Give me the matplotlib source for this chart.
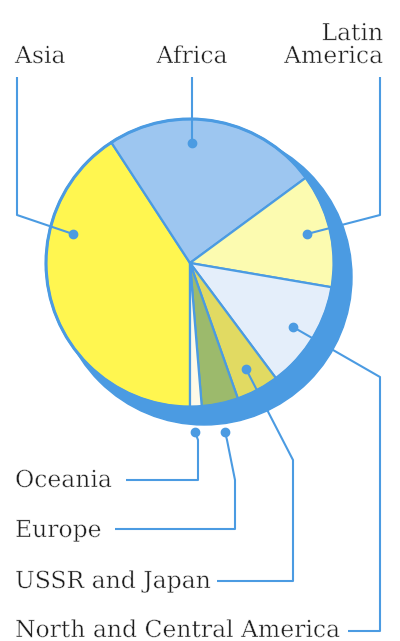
import matplotlib.pyplot as plt
import matplotlib.patheffects as pe
from matplotlib.patches import Circle

W, H = 400, 641

regions = ['Asia', 'Africa', 'Latin America', 'North and Central America',
           'USSR and Japan', 'Europe', 'Oceania']
shares = [40.8, 24.1, 12.8, 12.1, 4.8, 4.1, 1.3]
colors = ['#fff650', '#9dc6f0', '#fcfbb0', '#e4eefa', '#e1da62', '#9cba6c', '#fdfae8']

blue = '#4b9be2'
ink = '#1e1e1e'

fig = plt.figure(figsize=(W / 100, H / 100), dpi=100)
ax = fig.add_axes([0, 0, 1, 1])

cx, cy, r = 190, H - 263, 144

# blue "thickness" disc behind the pie
ax.add_patch(Circle((cx + 14, cy - 14), r + 4, color=blue, zorder=1))

wedges, _ = ax.pie(shares, colors=colors, startangle=270, counterclock=False,
                   center=(cx, cy), radius=r,
                   wedgeprops=dict(edgecolor=blue, linewidth=1.6, zorder=2))
ax.add_patch(Circle((cx, cy), r, fill=False, edgecolor=blue, lw=2.2, zorder=3))

ax.set_xlim(0, W)
ax.set_ylim(0, H)
ax.set_aspect('auto')
ax.axis('off')

# leader lines: list of (x, y) in image pixels, first point is the dot
leaders = {
    'Asia': [(73, 234), (17, 215), (17, 77)],
    'Africa': [(192, 143), (192, 77)],
    'Latin America': [(307, 234), (380, 215), (380, 77)],
    'Oceania': [(195, 432), (198, 440), (198, 480), (126, 480)],
    'Europe': [(225, 432), (227, 440), (235, 480), (235, 529), (115, 529)],
    'USSR and Japan': [(246, 369), (293, 460), (293, 581), (217, 581)],
    'North and Central America': [(293, 327), (380, 377), (380, 631), (348, 631)],
}
for name, pts in leaders.items():
    xs = [p[0] for p in pts]
    ys = [H - p[1] for p in pts]
    ax.plot(xs, ys, color=blue, lw=1.5, zorder=4, solid_capstyle='butt')
    ax.plot(xs[0], ys[0], 'o', color=blue, ms=6, zorder=5)

# thin the glyph strokes a little for a lighter face
thin = [pe.Normal(), pe.PathPatchEffect(edgecolor='white', facecolor='none', linewidth=0.35)]
font = dict(family='DejaVu Serif', fontsize=16.9, color=ink, path_effects=thin)
ax.text(15, H - 63, 'Asia', ha='left', va='baseline', **font)
ax.text(192, H - 63, 'Africa', ha='center', va='baseline', **font)
ax.text(383, H - 63, 'Latin\nAmerica', ha='right', va='baseline',
        linespacing=1.05, **font)
ax.text(15, H - 487, 'Oceania', ha='left', va='baseline', **font)
ax.text(15, H - 537, 'Europe', ha='left', va='baseline', **font)
ax.text(15, H - 588, 'USSR and Japan', ha='left', va='baseline', **font)
ax.text(15, H - 637, 'North and Central America', ha='left', va='baseline', **font)

fig.savefig('out.png', dpi=100, facecolor='white')
